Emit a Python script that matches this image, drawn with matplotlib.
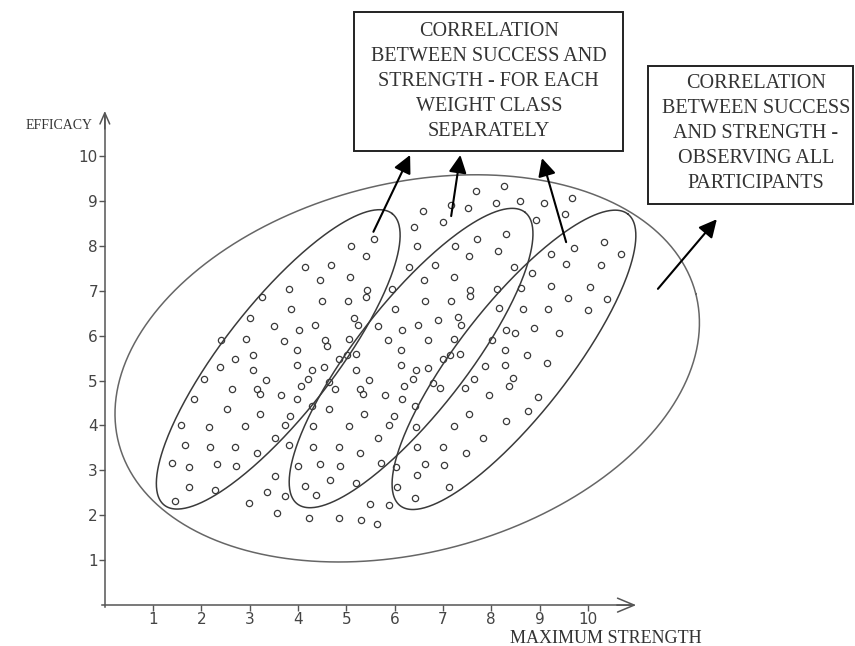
import numpy as np
import matplotlib.pyplot as plt
from matplotlib.patches import Rectangle

# maximum strength (x) and efficacy (y) of each participant
strength = [
    6.58, 6.41, 6.47, 5.58, 5.09, 5.40, 4.15, 4.69, 6.29, 4.46,
    5.08, 6.60, 3.82, 5.43, 5.95, 3.26, 5.40, 4.50, 5.03, 6.63,
    3.86, 6.00, 3.01, 5.16, 3.51, 4.35, 5.25, 5.65, 6.49, 4.02,
    6.16, 2.41, 2.93, 3.71, 4.55, 4.60, 5.06, 5.86, 6.69, 3.98,
    6.13, 3.06, 2.70, 4.84, 5.01, 5.20, 2.39, 3.06, 3.98, 4.29,
    4.53, 5.20, 6.13, 6.44, 2.06, 3.33, 4.21, 4.65, 5.47, 6.38,
    2.63, 3.15, 3.22, 4.06, 4.77, 5.28, 5.35, 6.20, 1.84, 3.64,
    3.98, 5.79, 6.16, 2.52, 4.29, 4.65, 6.42, 3.22, 3.84, 5.37,
    5.99, 1.58, 2.16, 2.90, 3.72, 4.30, 5.05, 5.88, 6.45, 3.53,
    5.66,
    1.67, 2.17, 2.69, 3.15, 3.81, 4.30, 4.84, 5.29, 6.47, 1.40,
    1.74, 2.32, 2.72, 4.00, 4.46, 4.87, 5.71, 6.03, 6.63, 3.53,
    6.47, 1.74, 2.28, 4.66, 5.20, 4.14, 6.05, 3.35, 3.73, 4.37,
    6.43, 1.45, 2.99, 5.48, 5.89, 3.56, 4.22, 4.84, 5.31, 5.64,
    8.27, 7.68, 9.68, 7.17, 7.52, 8.10, 8.60, 9.10, 7.00, 8.92,
    9.52, 7.24, 7.71, 8.31, 9.71, 10.33, 10.68, 7.54, 8.13, 9.24,
    6.83, 8.47, 9.55, 10.28, 7.22, 8.84, 7.57, 7.57, 8.12, 8.61,
    9.23, 10.05, 7.17, 9.58, 10.40, 8.16, 8.65, 9.18, 10.01, 7.31,
    7.38, 6.89, 8.31, 8.49, 8.89, 9.40, 7.23, 8.02, 8.29, 8.74,
    9.15, 7.00, 7.15, 7.36, 7.86, 8.29, 6.70, 7.65, 8.44, 6.79,
    8.37, 6.93, 7.46,
    7.95, 8.96, 7.54, 8.76, 8.31, 7.22, 7.83, 7.00, 7.47, 7.03, 7.12,
]
efficacy = [
    8.78, 8.41, 8.00, 8.14, 8.00, 7.77, 7.52, 7.57, 7.52, 7.24,
    7.30, 7.24, 7.04, 7.02, 7.04, 6.85, 6.85, 6.78, 6.78, 6.78,
    6.60, 6.60, 6.40, 6.40, 6.22, 6.24, 6.24, 6.22, 6.24, 6.12,
    6.12, 5.90, 5.92, 5.89, 5.90, 5.77, 5.93, 5.90, 5.90, 5.68,
    5.68, 5.57, 5.48, 5.48, 5.57, 5.59, 5.29, 5.23, 5.35, 5.23,
    5.29, 5.23, 5.35, 5.23, 5.03, 5.02, 5.03, 4.96, 5.02, 5.03,
    4.80, 4.81, 4.71, 4.88, 4.80, 4.81, 4.71, 4.88, 4.58, 4.67,
    4.58, 4.67, 4.58, 4.36, 4.44, 4.36, 4.44, 4.25, 4.22, 4.25,
    4.22, 4.02, 3.97, 3.99, 4.02, 3.99, 3.99, 4.02, 3.97, 3.73,
    3.73,
    3.56, 3.53, 3.53, 3.38, 3.56, 3.53, 3.53, 3.38, 3.53, 3.16,
    3.08, 3.14, 3.10, 3.10, 3.14, 3.10, 3.16, 3.08, 3.14, 2.88,
    2.90, 2.63, 2.56, 2.78, 2.71, 2.66, 2.63, 2.52, 2.42, 2.46,
    2.38, 2.31, 2.27, 2.26, 2.23, 2.04, 1.95, 1.93, 1.89, 1.81,
    9.33, 9.21, 9.06, 8.90, 8.85, 8.96, 9.00, 8.95, 8.53, 8.57,
    8.70, 8.00, 8.14, 8.26, 7.96, 8.09, 7.81, 7.77, 7.89, 7.82,
    7.57, 7.52, 7.59, 7.57, 7.30, 7.39, 7.02, 6.87, 7.04, 7.06,
    7.11, 7.09, 6.78, 6.84, 6.82, 6.61, 6.59, 6.59, 6.57, 6.41,
    6.24, 6.35, 6.12, 6.05, 6.16, 6.05, 5.93, 5.90, 5.68, 5.57,
    5.39, 5.48, 5.57, 5.58, 5.32, 5.35, 5.28, 5.03, 5.05, 4.95,
    4.88, 4.83, 4.83,
    4.67, 4.63, 4.25, 4.31, 4.09, 3.99, 3.71, 3.53, 3.39, 3.11, 2.63,
]

x_ticks = [1, 2, 3, 4, 5, 6, 7, 8, 9, 10]
y_ticks = [1, 2, 3, 4, 5, 6, 7, 8, 9, 10]

# ellipse centres (one per weight class, one around everybody)
class_centres = [(3.59, 5.47), (6.34, 5.50), (8.47, 5.46)]
all_centre = (6.26, 5.27)

box_class_text = "CORRELATION\nBETWEEN SUCCESS AND\nSTRENGTH - FOR EACH\nWEIGHT CLASS\nSEPARATELY"
box_all_text = "CORRELATION\nBETWEEN SUCCESS\nAND STRENGTH -\nOBSERVING ALL\nPARTICIPANTS"

W, H = 8.55, 6.46
XLIM = (-2.17, 15.53)
YLIM = (-0.91, 13.47)
# ratio of pixel length of one x unit to one y unit, so ellipses keep their drawn shape
K = (W / (XLIM[1] - XLIM[0])) / (H / (YLIM[1] - YLIM[0]))

INK = '#333333'
serif = 'Liberation Serif'


def ellipse(cx, cy, a, b, deg):
    t = np.linspace(0, 2 * np.pi, 400)
    th = np.radians(deg)
    u, v = a * np.cos(t), b * np.sin(t)
    return cx + u * np.cos(th) - v * np.sin(th), cy + (u * np.sin(th) + v * np.cos(th)) * K


fig = plt.figure(figsize=(W, H), dpi=100)
ax = fig.add_axes([0, 0, 1, 1])
ax.set_xlim(*XLIM)
ax.set_ylim(*YLIM)

for s in ['top', 'right']:
    ax.spines[s].set_visible(False)
for s in ['left', 'bottom']:
    ax.spines[s].set_position(('data', 0))
    ax.spines[s].set_color('#555555')
    ax.spines[s].set_linewidth(1.1)
ax.spines['left'].set_bounds(-0.05, 10.9)
ax.spines['bottom'].set_bounds(-0.05, 10.9)

ax.annotate('', xy=(0, 11.0), xytext=(0, 10.6),
            arrowprops=dict(arrowstyle='->,head_length=0.8,head_width=0.35',
                            mutation_scale=10, color='#555555', lw=1.1,
                            shrinkA=0, shrinkB=0))
ax.annotate('', xy=(11.0, 0), xytext=(10.6, 0),
            arrowprops=dict(arrowstyle='->,head_length=1.2,head_width=0.5',
                            mutation_scale=10, color='#555555', lw=1.1,
                            shrinkA=0, shrinkB=0))

ax.set_xticks(x_ticks)
ax.set_yticks(y_ticks)
ax.set_xticklabels([str(v) for v in x_ticks])
ax.set_yticklabels([str(v) for v in y_ticks])
ax.tick_params(direction='out', length=4, width=1, color='#555555',
               labelsize=11, labelcolor='#444444', pad=1)

# participants
ax.plot(strength, efficacy, 'o', ms=4.5, mfc='none', mec='#3a3a3a', mew=0.9)

# weight class ellipses and the one around all participants
for cx, cy in class_centres:
    ex, ey = ellipse(cx, cy, 3.83, 1.14, 52)
    ax.plot(ex, ey, color='#3a3a3a', lw=1.1)
ex, ey = ellipse(all_centre[0], all_centre[1], 6.17, 3.82, 14.5)
ax.plot(ex, ey, color='#666666', lw=1.1)

# text boxes
ax.add_patch(Rectangle((5.16, 10.11), 5.57, 3.10, fill=False, ec='#222222',
                       lw=1.4, clip_on=False))
ax.text(7.95, 11.66, box_class_text, ha='center', va='center', family=serif,
        fontsize=14.5, color=INK, linespacing=1.42)
ax.add_patch(Rectangle((11.25, 8.93), 4.24, 3.07, fill=False, ec='#222222',
                       lw=1.4, clip_on=False))
ax.text(13.48, 10.50, box_all_text, ha='center', va='center', family=serif,
        fontsize=14.5, color=INK, linespacing=1.42)

# arrows pointing at the boxes
arrow_from = [(5.56, 8.31), (7.17, 8.66), (9.55, 8.08), (11.45, 7.04)]
arrow_to = [(6.32, 10.02), (7.36, 10.02), (9.05, 9.95), (12.67, 8.59)]
for (x0, y0), (x1, y1) in zip(arrow_from, arrow_to):
    ax.annotate('', xy=(x1, y1), xytext=(x0, y0),
                arrowprops=dict(arrowstyle='-|>,head_length=0.9,head_width=0.45',
                                mutation_scale=12, color='black', lw=1.5,
                                shrinkA=0, shrinkB=0))

ax.text(-0.25, 10.68, 'EFFICACY', ha='right', va='center', family=serif,
        fontsize=10, color=INK)
ax.text(8.39, -0.735, 'MAXIMUM STRENGTH', ha='left', va='center', family=serif,
        fontsize=13, color=INK)

fig.savefig('out.png', dpi=100)
